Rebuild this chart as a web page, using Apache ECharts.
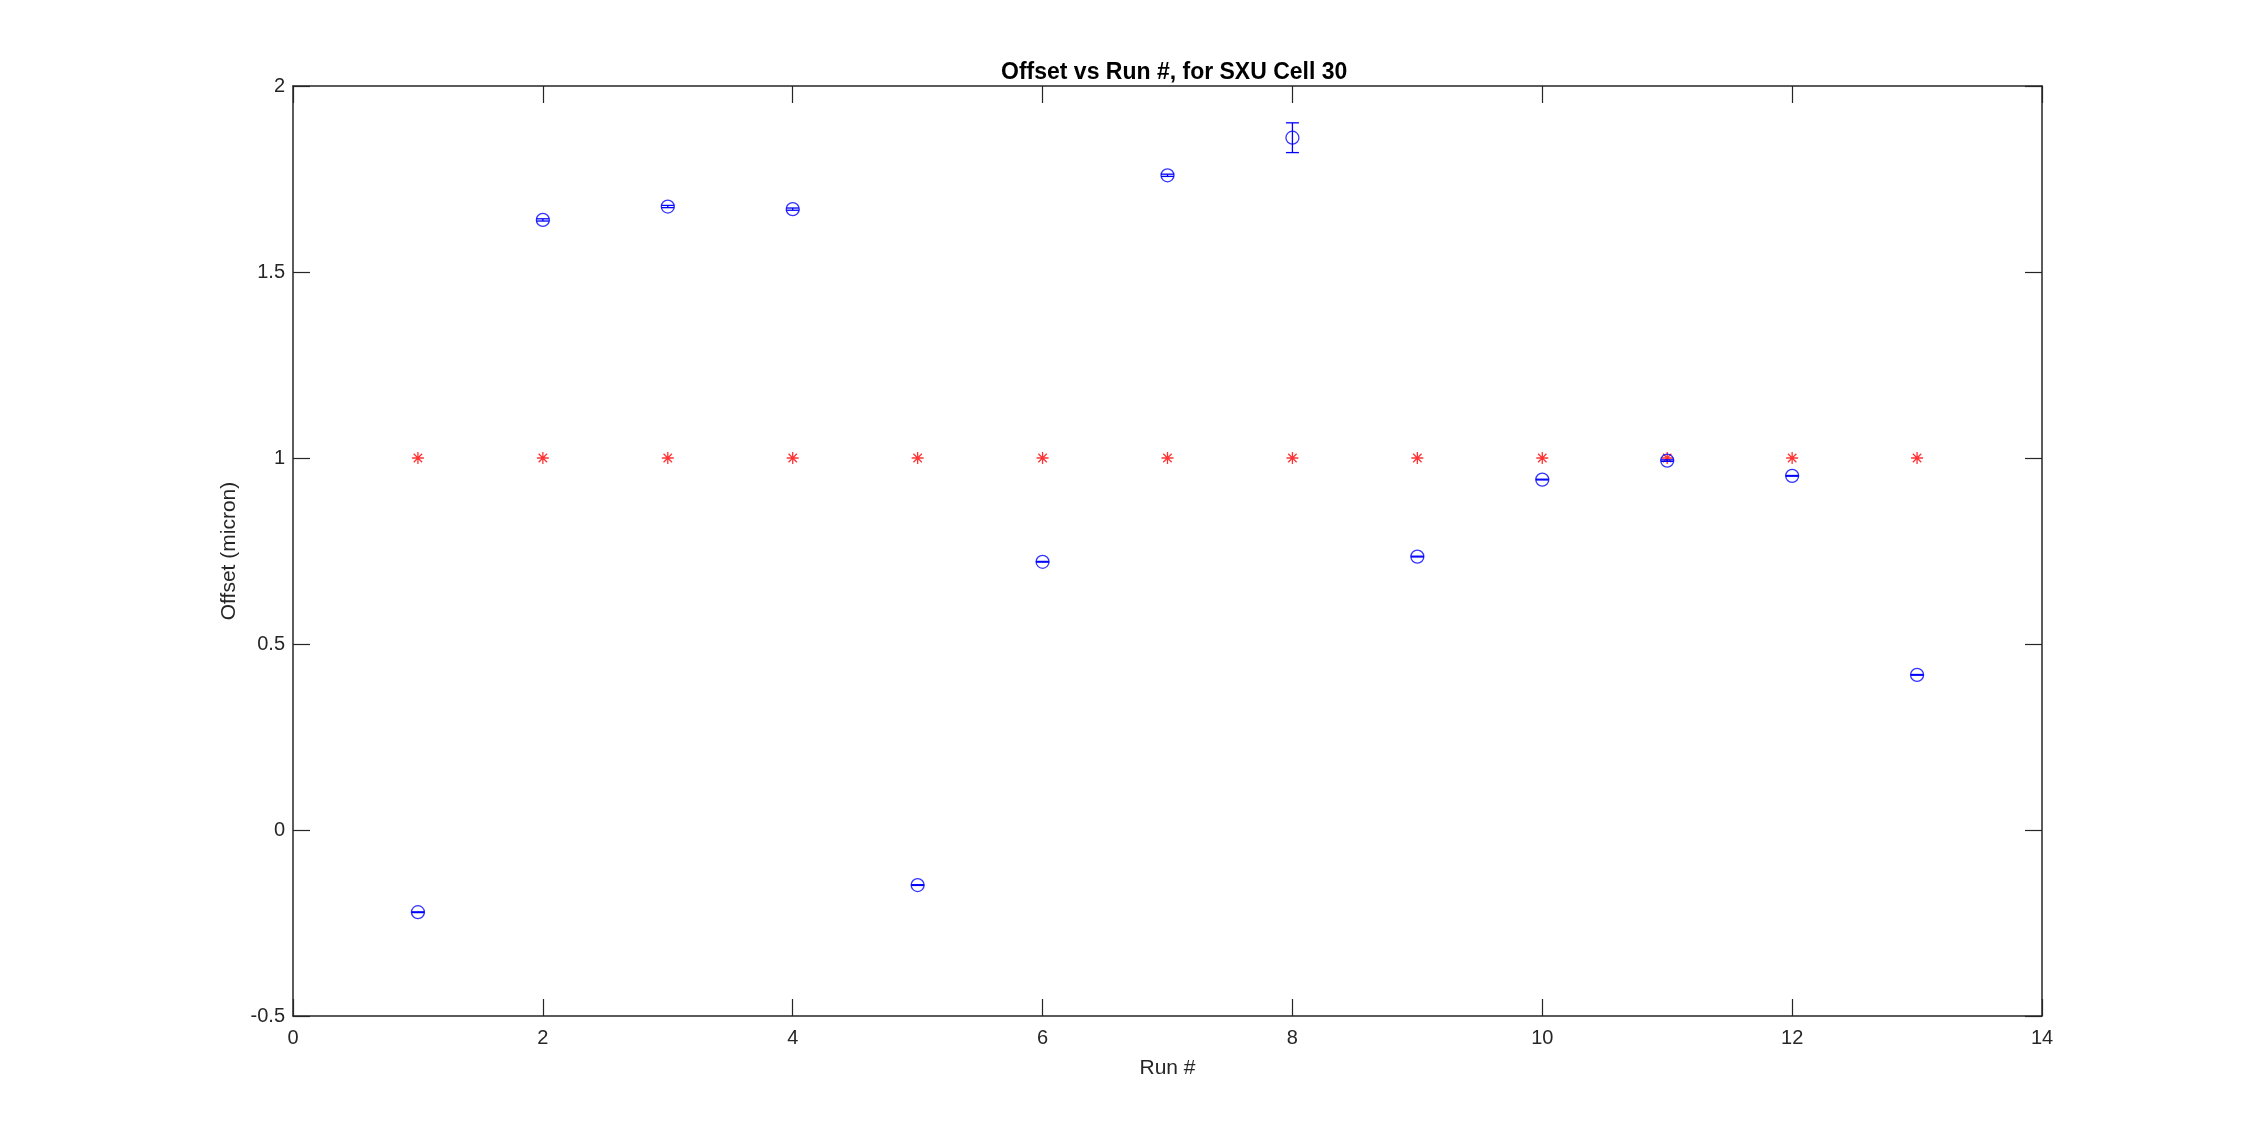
<!DOCTYPE html>
<html>
<head>
<meta charset="utf-8">
<script src="https://cdn.jsdelivr.net/npm/echarts@6/dist/echarts.min.js"></script>
<style>html,body{margin:0;padding:0;background:#fff;}#c{width:2258px;height:1143px;}</style>
</head>
<body>
<div id="c"></div>
<script>
const runs = [1,2,3,4,5,6,7,8,9,10,11,12,13];
const offsets = [-0.221, 1.640, 1.676, 1.669, -0.148, 0.721, 1.760, 1.861, 0.735, 0.942, 0.993, 0.952, 0.417];
const errors = [0.001, 0.003, 0.003, 0.003, 0.001, 0.001, 0.003, 0.040, 0.001, 0.001, 0.002, 0.001, 0.001];
const reference = [1,1,1,1,1,1,1,1,1,1,1,1,1];
const xTicks = {min: 0, max: 14, interval: 2};
const yTicks = {min: -0.5, max: 2, interval: 0.5};

const FONT = '"Liberation Sans", Arial, Helvetica, sans-serif';
const AX = '#262626';
const chart = echarts.init(document.getElementById('c'), null, {renderer: 'canvas'});

const errData = runs.map((r, i) => [r, offsets[i], errors[i]]);
const ptData = runs.map((r, i) => [r, offsets[i]]);
const refData = runs.map((r, i) => [r, reference[i]]);

function axisCommon() {
  return {
    axisLine: {show: true, onZero: false, lineStyle: {color: AX, width: 1.5}},
    axisTick: {show: true, inside: true, length: 17, lineStyle: {color: AX, width: 1.2}},
    splitLine: {show: false}
  };
}

chart.setOption({
  animation: false,
  backgroundColor: '#fff',
  title: {
    text: 'Offset vs Run #, for SXU Cell 30',
    left: 996, top: 56,
    textStyle: {fontFamily: FONT, fontSize: 23, fontWeight: 'bold', color: '#000'}
  },
  grid: {left: 293, right: 216, top: 86, bottom: 127, containLabel: false},
  xAxis: [
    Object.assign({
      type: 'value', position: 'bottom', min: xTicks.min, max: xTicks.max, interval: xTicks.interval,
      name: 'Run #', nameLocation: 'middle', nameGap: 42,
      nameTextStyle: {fontFamily: FONT, fontSize: 21, color: AX},
      axisLabel: {fontFamily: FONT, fontSize: 20, color: AX, margin: 12}
    }, axisCommon()),
    Object.assign({
      type: 'value', position: 'top', min: xTicks.min, max: xTicks.max, interval: xTicks.interval,
      axisLabel: {show: false}
    }, axisCommon())
  ],
  yAxis: [
    Object.assign({
      type: 'value', position: 'left', min: yTicks.min, max: yTicks.max, interval: yTicks.interval,
      name: 'Offset (micron)', nameLocation: 'middle', nameGap: 52, nameRotate: 90,
      nameTextStyle: {fontFamily: FONT, fontSize: 21, color: AX},
      axisLabel: {fontFamily: FONT, fontSize: 20, color: AX, margin: 8}
    }, axisCommon()),
    Object.assign({
      type: 'value', position: 'right', min: yTicks.min, max: yTicks.max, interval: yTicks.interval,
      axisLabel: {show: false}
    }, axisCommon())
  ],
  series: [
    {
      type: 'scatter', data: refData, xAxisIndex: 0, yAxisIndex: 0,
      symbol: 'path://M0,-10L0,10M-10,0L10,0M-7,-7L7,7M-7,7L7,-7',
      symbolSize: 12,
      itemStyle: {color: 'rgba(0,0,0,0)', borderColor: '#ff0000', borderWidth: 1.3},
      z: 3
    },
    {
      type: 'scatter', data: ptData, xAxisIndex: 0, yAxisIndex: 0,
      symbol: 'circle', symbolSize: 13,
      itemStyle: {color: 'rgba(0,0,0,0)', borderColor: '#0000ff', borderWidth: 1.3},
      z: 4
    },
    {
      type: 'custom', xAxisIndex: 0, yAxisIndex: 0, data: errData,
      renderItem: function (params, api) {
        const x = api.value(0), y = api.value(1), e = api.value(2);
        const top = api.coord([x, y + e]);
        const bot = api.coord([x, y - e]);
        const hw = 6.5;
        const st = {stroke: '#0000ff', lineWidth: 1.3, fill: null};
        return {
          type: 'group',
          children: [
            {type: 'line', shape: {x1: top[0], y1: top[1], x2: bot[0], y2: bot[1]}, style: st},
            {type: 'line', shape: {x1: top[0] - hw, y1: top[1], x2: top[0] + hw, y2: top[1]}, style: st},
            {type: 'line', shape: {x1: bot[0] - hw, y1: bot[1], x2: bot[0] + hw, y2: bot[1]}, style: st}
          ]
        };
      },
      z: 5
    }
  ]
});
</script>
</body>
</html>
